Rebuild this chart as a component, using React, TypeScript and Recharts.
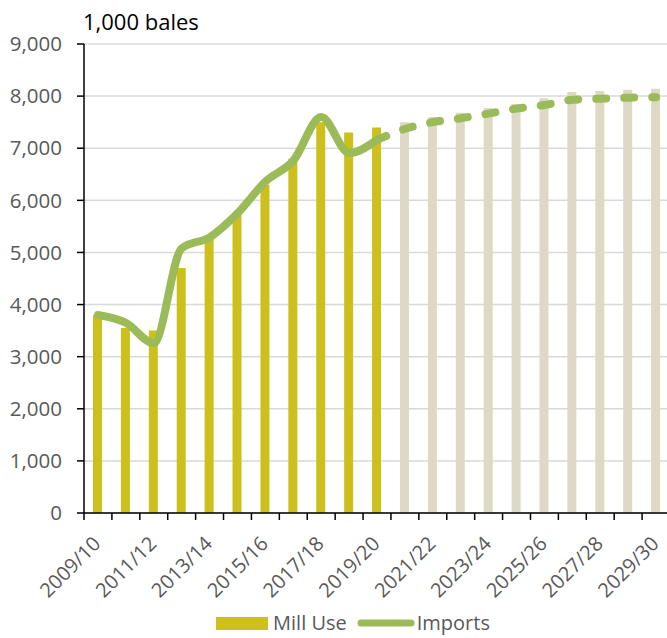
import React from 'react'
import { ComposedChart, Bar, Line, XAxis, YAxis, CartesianGrid, Legend, Cell } from 'recharts'

const years = [
  '2009/10', '2010/11', '2011/12', '2012/13', '2013/14', '2014/15', '2015/16',
  '2016/17', '2017/18', '2018/19', '2019/20', '2020/21', '2021/22', '2022/23',
  '2023/24', '2024/25', '2025/26', '2026/27', '2027/28', '2028/29', '2029/30',
]
const millUse = [
  3800, 3550, 3500, 4700, 5270, 5750, 6300, 6800, 7500, 7300, 7400,
  7500, 7600, 7680, 7770, 7850, 7960, 8080, 8100, 8120, 8140,
]
// imports, history (2009/10 - 2019/20)
const importsActual = [3800, 3650, 3260, 5080, 5290, 5750, 6360, 6760, 7600, 6910, 7160]
// imports, projections (2019/20 - 2029/30)
const importsProjected = [7160, 7370, 7500, 7575, 7665, 7760, 7830, 7930, 7950, 7970, 7980]
const yTicks = [0, 1000, 2000, 3000, 4000, 5000, 6000, 7000, 8000, 9000]
const firstProjected = '2020/21'

const GOLD = '#CDC01C'
const BEIGE = '#DDD9C4'
const GREEN = '#9BBB59'
const TEXT = '#595959'
const FONT = '"Open Sans", sans-serif'

const CHART_W = 680
const CHART_H = 638
const Y_AXIS_W = 84
const RIGHT = 10
const BAND = (CHART_W - Y_AXIS_W - RIGHT) / years.length

const projStart = years.indexOf(firstProjected)
const lastActual = importsActual.length - 1

const data = years.map((year, i) => ({
  year,
  millUse: millUse[i],
  imports: i <= lastActual ? importsActual[i] : null,
  importsProj: i >= lastActual ? importsProjected[i - lastActual] : null,
  projected: i >= projStart,
}))

const XTick = (props: any) => {
  const { x, y, index, payload } = props
  const half = BAND / 2
  const lx = x + 4
  const ly = y + 32
  return (
    <g>
      <line x1={x - half} x2={x - half} y1={y} y2={y + 7} stroke="#000" strokeWidth={1.5} />
      {index === years.length - 1 && (
        <line x1={x + half} x2={x + half} y1={y} y2={y + 7} stroke="#000" strokeWidth={1.5} />
      )}
      {index % 2 === 0 && (
        <text
          x={lx}
          y={ly}
          transform={`rotate(-45, ${lx}, ${ly})`}
          textAnchor="end"
          fill={TEXT}
          fontSize={20}
          fontFamily={FONT}
        >
          {payload.value}
        </text>
      )}
    </g>
  )
}

const renderLegend = () => (
  <div
    style={{
      display: 'flex',
      alignItems: 'center',
      justifyContent: 'center',
      height: 20,
      paddingTop: 5,
      paddingLeft: 36,
      fontFamily: FONT,
      fontSize: 20,
      lineHeight: '20px',
      color: TEXT,
      whiteSpace: 'nowrap',
    }}
  >
    <span style={{ display: 'inline-block', width: 52, height: 13, background: GOLD, marginRight: 5 }} />
    <span style={{ marginRight: 10 }}>Mill Use</span>
    <svg width={58} height={10} style={{ marginRight: 2 }}>
      <line x1={4} x2={54} y1={5} y2={5} stroke={GREEN} strokeWidth={7} strokeLinecap="round" />
    </svg>
    <span>Imports</span>
  </div>
)

export default function App() {
  return (
    <div style={{ position: 'absolute', left: 0, top: 0, width: 667, height: 638, overflow: 'hidden', background: '#fff' }}>
      <div
        style={{
          position: 'absolute',
          left: 83,
          top: 10,
          fontFamily: FONT,
          fontSize: 22,
          lineHeight: '22px',
          color: '#000',
          whiteSpace: 'nowrap',
        }}
      >
        1,000 bales
      </div>
      <ComposedChart
        width={CHART_W}
        height={CHART_H}
        data={data}
        margin={{ top: 44, right: RIGHT, left: 0, bottom: 0 }}
      >
        <CartesianGrid vertical={false} stroke="#D9D9D9" strokeWidth={1.5} />
        <XAxis
          dataKey="year"
          interval={0}
          height={95}
          tickSize={0}
          tickMargin={0}
          tickLine={false}
          axisLine={{ stroke: '#000', strokeWidth: 1.5 }}
          tick={<XTick />}
        />
        <YAxis
          domain={[0, 9000]}
          ticks={yTicks}
          interval={0}
          width={Y_AXIS_W}
          tickSize={7}
          tickMargin={15}
          axisLine={{ stroke: '#000', strokeWidth: 1.5 }}
          tickLine={{ stroke: '#000', strokeWidth: 1.5 }}
          tick={{ fill: TEXT, fontSize: 20.5, fontFamily: FONT }}
          tickFormatter={(v: number) => v.toLocaleString('en-US')}
        />
        <Legend verticalAlign="bottom" height={30} content={renderLegend} />
        <Bar dataKey="millUse" name="Mill Use" barSize={9} isAnimationActive={false}>
          {data.map((d) => (
            <Cell key={d.year} fill={d.projected ? BEIGE : GOLD} />
          ))}
        </Bar>
        <Line
          type="monotone"
          dataKey="imports"
          name="Imports"
          stroke={GREEN}
          strokeWidth={8}
          strokeLinecap="round"
          dot={false}
          activeDot={false}
          isAnimationActive={false}
        />
        <Line
          type="monotone"
          dataKey="importsProj"
          stroke={GREEN}
          strokeWidth={8}
          strokeLinecap="round"
          strokeDasharray="10 18"
          dot={false}
          activeDot={false}
          legendType="none"
          isAnimationActive={false}
        />
      </ComposedChart>
    </div>
  )
}
